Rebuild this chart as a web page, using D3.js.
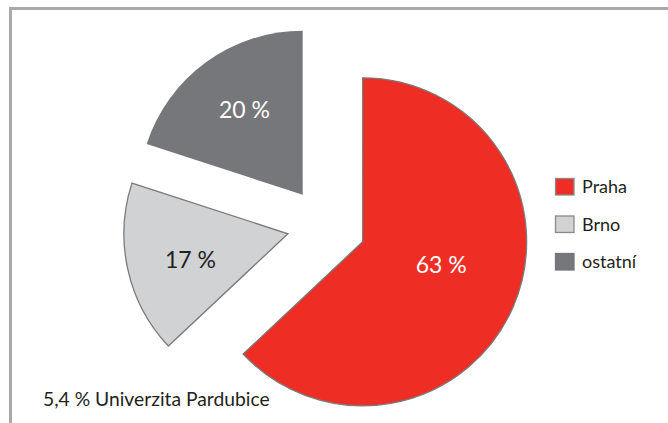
<!DOCTYPE html>
<html>
<head>
<meta charset="utf-8">
<script src="https://cdn.jsdelivr.net/npm/d3@7"></script>
<style>
  html, body { margin: 0; padding: 0; background: #fff; }
  svg { display: block; }
  text { font-family: Lato, "Open Sans", sans-serif; }
</style>
</head>
<body>
<svg id="chart" width="668" height="423"></svg>
<script>
const categories = ["Praha", "Brno", "ostatní"];
const values = [63, 17, 20];
const labels = ["63 %", "17 %", "20 %"];
const note = "5,4 % Univerzita Pardubice";

const fills = ["#ee2e24", "#d1d2d4", "#76777b"];
const strokes = ["#7a7a7a", "#7a7a7a", "none"];
const labelColors = ["#ffffff", "#231f20", "#ffffff"];

const svg = d3.select("#chart");

// frame (top and left)
svg.append("rect").attr("x", 9).attr("y", 7).attr("width", 659).attr("height", 3).attr("fill", "#a9a9a9");
svg.append("rect").attr("x", 9).attr("y", 7).attr("width", 3).attr("height", 416).attr("fill", "#a9a9a9");

const cx = 325, cy = 225.5, R = 164;
const pie = d3.pie().sort(null).value(d => d);
const arcs = pie(values);
const arc = d3.arc().innerRadius(0).outerRadius(R);
const explode = i => (i === 0 ? 41 : 38);

const g = svg.append("g").attr("transform", `translate(${cx},${cy})`);

const slices = g.selectAll("g.slice").data(arcs).enter().append("g")
  .attr("class", "slice")
  .attr("transform", (d, i) => {
    const mid = (d.startAngle + d.endAngle) / 2;
    return `translate(${Math.sin(mid) * explode(i)},${-Math.cos(mid) * explode(i)})`;
  });

slices.append("path")
  .attr("d", arc)
  .attr("fill", (d, i) => fills[i])
  .attr("stroke", (d, i) => strokes[i])
  .attr("stroke-width", 1.3);

// label positions (radius fraction along the bisector, small angular nudge)
const labelR = [0.5, 0.615, 0.63];
const labelNudge = [-0.12, -0.04, 0.03];
slices.append("text")
  .attr("transform", (d, i) => {
    const mid = (d.startAngle + d.endAngle) / 2 + labelNudge[i];
    const r = R * labelR[i];
    return `translate(${Math.sin(mid) * r},${-Math.cos(mid) * r})`;
  })
  .attr("text-anchor", "middle")
  .attr("dy", "0.36em")
  .attr("font-size", 23)
  .attr("fill", (d, i) => labelColors[i])
  .text((d, i) => labels[i]);

// legend
const legend = svg.append("g").attr("transform", "translate(555,178)");
const items = legend.selectAll("g").data(categories).enter().append("g")
  .attr("transform", (d, i) => `translate(0,${i * 37.5})`);
items.append("rect")
  .attr("x", 0.5).attr("y", 0.5).attr("width", 18.5).attr("height", 16.5)
  .attr("fill", (d, i) => fills[i])
  .attr("stroke", (d, i) => i === 2 ? fills[i] : "#8a8a8a")
  .attr("stroke-width", 1.3);
items.append("text")
  .attr("x", 27).attr("y", 15)
  .attr("font-size", 18)
  .attr("fill", "#231f20")
  .text(d => d);

// note
svg.append("text")
  .attr("x", 43).attr("y", 406)
  .attr("font-size", 19.3)
  .attr("fill", "#231f20")
  .text(note);
</script>
</body>
</html>
